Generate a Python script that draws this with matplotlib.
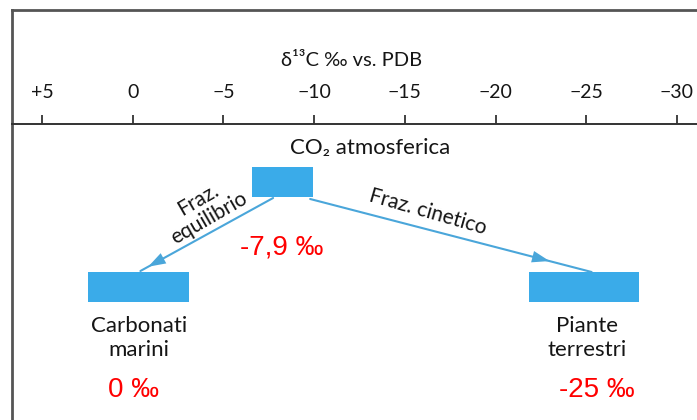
import matplotlib.pyplot as plt
from matplotlib.patches import Rectangle

# valori delta 13C (per mille vs PDB)
tick_vals = [5, 0, -5, -10, -15, -20, -25, -30]
tick_labels = ["+5", "0", "\u22125", "\u221210", "\u221215", "\u221220", "\u221225", "\u221230"]

box_names = ["CO\u2082 atmosferica", "Carbonati\nmarini", "Piante\nterrestri"]
box_start = [-6.6, 2.45, -21.85]
box_end = [-9.95, -3.1, -27.9]
delta_labels = ["-7,9 \u2030", "0 \u2030", "-25 \u2030"]
arrow_names = ["Fraz.\nequilibrio", "Fraz. cinetico"]

plt.rcParams["font.family"] = ["Lato", "DejaVu Sans"]
red_font = ["Liberation Sans", "DejaVu Sans"]

# scala: pixel x = x0 - k * delta
x0, k = 132.7, 18.14


def px(x):
    return (x0 - x) / k


box_top = [167, 272, 272]
box_h = 30
blue = "#3aabe9"
arrow_col = "#4aa6da"
txt_col = "#151515"

fig = plt.figure(figsize=(6.97, 4.2), dpi=100)
fig.patch.set_facecolor("white")
ax = fig.add_axes([12 / 697, 0, 685 / 697, 410 / 420])
ax.set_xlim(px(12), px(697))
ax.set_ylim(420, 10)

# asse in alto
ax.xaxis.set_ticks_position("top")
ax.spines["top"].set_position(("data", 124))
ax.spines["top"].set_color("#333333")
ax.spines["top"].set_linewidth(1.4)
ax.spines["bottom"].set_visible(False)
ax.spines["right"].set_visible(False)
ax.spines["left"].set_color("#555555")
ax.spines["left"].set_linewidth(2)
ax.set_xticks(tick_vals, tick_labels)
ax.tick_params(axis="x", direction="out", length=6.5, width=1.3, color="#333333",
               pad=10, labelsize=14, labelcolor=txt_col)
ax.set_yticks([])
ax.axhline(10, color="#555555", lw=2, clip_on=False)

ax.text(px(352), 60, "\u03b4\u00b9\u00b3C \u2030 vs. PDB", ha="center", va="center",
        fontsize=14.5, color=txt_col)

# rettangoli
for s, e, t in zip(box_start, box_end, box_top):
    ax.add_patch(Rectangle((s, t), e - s, box_h, color=blue, lw=0))

# frecce
w0 = box_end[0] - box_start[0]
eq_start = (box_start[0] + 0.34 * w0, box_top[0] + box_h + 1)
eq_end = ((box_start[1] + box_end[1]) / 2 - 0.1, box_top[1] - 1)
w2 = box_end[2] - box_start[2]
kin_start = (box_start[0] + 0.95 * w0, box_top[0] + box_h + 2)
kin_end = (box_start[2] + 0.57 * w2, box_top[2])

for (xs, ys), (xe, ye), f in [(eq_start, eq_end, 0.96), (kin_start, kin_end, 0.86)]:
    ax.plot([xs, xe], [ys, ye], color=arrow_col, lw=1.5, solid_capstyle="round")
    tip = (xs + f * (xe - xs), ys + f * (ye - ys))
    ax.annotate("", xy=tip, xytext=(xs, ys),
                arrowprops=dict(arrowstyle="-|>,head_length=0.9,head_width=0.3",
                                color=arrow_col, lw=0, mutation_scale=14))

# testi
ax.text(px(370), 148, box_names[0], ha="center", va="center", fontsize=16, color=txt_col)
ax.text(px(139), 338, box_names[1], ha="center", va="center", fontsize=16,
        color=txt_col, linespacing=1.3)
ax.text(px(587), 338, box_names[2], ha="center", va="center", fontsize=16,
        color=txt_col, linespacing=1.3)

ax.text(px(204), 209, arrow_names[0], ha="center", va="center", fontsize=15,
        color=txt_col, rotation=30, rotation_mode="anchor", linespacing=1.1)
ax.text(px(428), 212, arrow_names[1], ha="center", va="center", fontsize=15,
        color=txt_col, rotation=-16, rotation_mode="anchor")

ax.text(px(282), 247, delta_labels[0], ha="center", va="center", fontsize=20,
        color="red", family=red_font)
ax.text(px(133), 390, delta_labels[1], ha="center", va="center", fontsize=20,
        color="red", family=red_font)
ax.text(px(597), 390, delta_labels[2], ha="center", va="center", fontsize=20,
        color="red", family=red_font)

fig.savefig("out.png", dpi=100)
